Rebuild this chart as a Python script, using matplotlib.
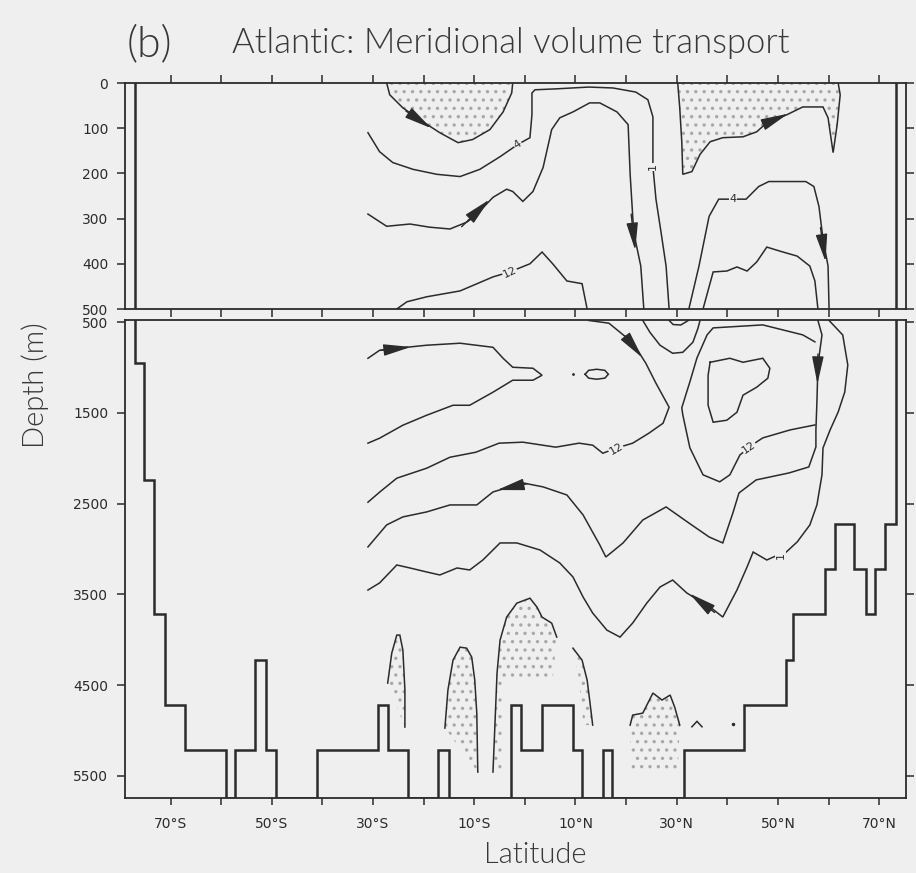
import matplotlib.pyplot as plt

BG = '#efefef'
INK = '#2b2b2b'
DOTS = '#a8a8a8'

# axis ticks
lat_ticks = [-70, -60, -50, -40, -30, -20, -10, 0, 10, 20, 30, 40, 50, 60, 70]
lat_labels = ['70°S', '', '50°S', '', '30°S', '', '10°S', '', '10°N', '', '30°N', '', '50°N', '', '70°N']
top_depth_ticks = [0, 100, 200, 300, 400, 500]
deep_depth_ticks = [500, 1500, 2500, 3500, 4500, 5500]

# land walls and bottom topography (lat, depth)
wall_south = -77.1
wall_north = 73.4
bathy_lat = [-77.1, -77.1, -75.3, -75.3, -73.3, -73.3, -71.1, -71.1, -67.2, -67.2, -59.1, -59.1,
             -57.3, -57.3, -53.4, -53.4, -51.2, -51.2, -49.2, -49.2, -41.1, -41.1, -29.1, -29.1,
             -27.1, -27.1, -23.1, -23.1, -17.2, -17.2, -15.0, -15.0, -2.7, -2.7, -0.7, -0.7,
             3.3, 3.3, 9.5, 9.5, 11.3, 11.3, 15.4, 15.4, 17.3, 17.3, 31.4, 31.4, 43.3, 43.3,
             51.6, 51.6, 53.0, 53.0, 59.3, 59.3, 61.3, 61.3, 65.1, 65.1, 67.4, 67.4, 69.1, 69.1,
             71.1, 71.1, 73.4, 73.4]
bathy_dep = [475, 950, 950, 2240, 2240, 3720, 3720, 4720, 4720, 5220, 5220, 5745,
             5745, 5220, 5220, 4220, 4220, 5220, 5220, 5745, 5745, 5220, 5220, 4720,
             4720, 5220, 5220, 5745, 5745, 5220, 5220, 5745, 5745, 4720, 4720, 5220,
             5220, 4720, 4720, 5220, 5220, 5745, 5745, 5220, 5220, 5745, 5745, 5220, 5220, 4720,
             4720, 4220, 4220, 3720, 3720, 3220, 3220, 2720, 2720, 3220, 3220, 3720, 3720, 3220,
             3220, 2720, 2720, 475]

# ---- upper 500 m: streamlines (lat, depth)
t_south_lat = [-27.3, -26.7, -24.1, -20.8, -16.8, -13.2, -10.3, -6.9, -4.3, -2.6, -2.4]
t_south_dep = [0, 26, 55, 81, 110, 132, 125, 103, 64, 22, 0]
t_north_lat = [30.2, 30.6, 31.0, 31.2, 33.0, 34.6, 36.6, 39.1, 43.1, 45.8, 47.8, 51.8, 54.9,
               58.9, 59.9, 60.9, 61.7, 62.3, 61.9]
t_north_dep = [0, 55, 130, 202, 196, 158, 130, 121, 119, 108, 88, 70, 53, 53, 77, 154, 92, 26, 0]
t_four_lat = [-31.0, -28.7, -26.1, -22.1, -17.4, -12.8, -8.9, -4.9, -1.4, 1.0, 1.4, 1.4, 2.0,
              6.1, 12.6, 17.4, 21.9, 24.3, 25.3, 25.3, 25.9, 26.9, 27.9, 28.5]
t_four_dep = [110, 152, 176, 191, 202, 207, 191, 163, 136, 121, 70, 22, 15, 13, 9, 11, 20, 37,
              75, 185, 257, 330, 405, 500]
t_four_n_lat = [32.4, 34.4, 36.4, 38.3, 41.1, 43.7, 46.2, 48.2, 55.5, 57.1, 58.1, 58.9, 59.9, 60.1]
t_four_n_dep = [500, 405, 295, 257, 257, 257, 229, 218, 218, 229, 273, 345, 405, 500]
t_mid_lat = [-31.0, -27.3, -22.7, -18.8, -14.8, -11.5, -9.9, -6.3, -3.6, -2.4, -0.4, 1.6, 3.6,
             5.3, 6.9, 9.5, 12.8, 14.8, 18.2, 20.4, 20.8, 21.5, 22.9, 23.5]
t_mid_dep = [290, 317, 312, 319, 323, 308, 295, 253, 235, 240, 262, 240, 187, 103, 77, 64, 44,
             44, 64, 92, 202, 330, 405, 500]
t_mid_n_lat = [35.2, 37.2, 39.9, 41.9, 43.9, 45.8, 47.8, 50.4, 53.8, 56.3, 57.3, 57.9]
t_mid_n_dep = [500, 418, 416, 407, 416, 396, 363, 372, 383, 405, 438, 500]
t_twelve_lat = [-25.3, -23.3, -19.4, -12.8, -6.3, -3.0, 1.0, 3.4, 5.5, 8.3, 11.3, 12.3]
t_twelve_dep = [500, 484, 473, 460, 429, 418, 400, 374, 400, 438, 444, 500]

# ---- deep part: streamlines (lat, depth)
d_twelve_lat = [12.6, 16.6, 20.0, 21.9, 23.9, 25.9, 28.5, 27.3, 24.5, 21.3, 18.0, 15.4, 13.4,
                10.7, 6.1, -0.4, -5.1, -9.7, -14.8, -19.4, -25.3, -28.7, -31.0]
d_twelve_dep = [480, 510, 665, 776, 952, 1172, 1437, 1613, 1723, 1833, 1889, 1944, 1855, 1833,
                1877, 1822, 1833, 1933, 1988, 2109, 2219, 2373, 2484]
d_upper_lat = [-31.0, -28.7, -25.3, -19.4, -12.8, -6.3, -4.3, -2.4, 1.6, 3.4, 1.6, -2.4, -6.3,
               -10.9, -14.2, -19.4, -24.1, -28.7, -31.0]
d_upper_dep = [897, 809, 787, 753, 731, 776, 897, 996, 1007, 1084, 1139, 1139, 1271, 1415, 1415,
               1525, 1635, 1778, 1833]
d_eddy_lat = [11.9, 12.6, 14.2, 15.8, 16.5, 15.8, 14.2, 12.6, 11.9]
d_eddy_dep = [1073, 1030, 1018, 1030, 1073, 1116, 1128, 1116, 1073]
d_u_lat = [23.3, 24.7, 26.7, 29.2, 31.2, 33.2, 34.2, 34.6]
d_u_dep = [480, 610, 753, 842, 831, 720, 566, 480]
d_cap_lat = [28.5, 29.3, 30.8, 32.3]
d_cap_dep = [480, 525, 530, 480]
d_core_lat = [36.6, 40.5, 43.1, 47.0, 48.4, 48.0, 45.8, 43.1, 41.9, 39.9, 37.2, 36.2, 36.2, 36.6]
d_core_dep = [941, 897, 941, 897, 1007, 1117, 1216, 1304, 1492, 1580, 1602, 1415, 1084, 941]
d_ring_lat = [57.3, 54.9, 47.0, 37.2, 36.0, 34.0, 32.6, 31.0, 31.2, 32.6, 35.2, 38.5, 40.5, 42.5,
              44.5, 45.8, 47.0, 52.4, 57.3]
d_ring_dep = [716, 639, 529, 562, 639, 893, 1157, 1443, 1520, 1884, 2182, 2259, 2182, 1962, 1874,
              1819, 1775, 1687, 1632]
d_back_lat = [57.9, 58.7, 57.9, 57.7, 57.5, 57.5, 56.1, 52.2, 45.7, 42.3, 41.1, 39.1, 36.4, 32.4,
              27.9, 23.3, 19.4, 16.0, 14.8, 11.5, 8.3, 3.6, -0.4, -3.0, -6.3, -9.5, -14.8, -19.4,
              -24.1, -27.3, -31.0]
d_back_dep = [480, 640, 971, 1379, 1688, 1875, 2095, 2161, 2238, 2382, 2602, 2933, 2867, 2713,
              2536, 2680, 2933, 3088, 2955, 2624, 2404, 2315, 2271, 2315, 2371, 2514, 2514, 2591,
              2646, 2734, 2977]
d_outer_lat = [60.1, 62.8, 63.8, 63.2, 61.9, 60.3, 58.9, 58.7, 57.7, 56.3, 53.8, 51.0, 50.0, 47.8,
               45.1, 43.9, 41.9, 39.1, 36.6, 35.2, 32.0, 29.2, 26.7, 24.1, 21.3, 18.8, 16.2, 13.4,
               11.5, 9.5, 6.9, 3.0, -1.6, -4.9, -8.3, -10.9, -13.4, -16.8, -19.4, -22.7, -25.3,
               -28.7, -31.0]
d_outer_dep = [480, 640, 971, 1269, 1489, 1688, 1886, 2183, 2514, 2735, 2922, 3066, 3066, 3121,
               3033, 3198, 3452, 3750, 3640, 3595, 3485, 3342, 3419, 3595, 3816, 3971, 3894, 3706,
               3529, 3308, 3154, 3011, 2933, 2933, 3121, 3231, 3209, 3286, 3253, 3209, 3176, 3374,
               3452]

# near-bottom cells (stippled)
s1_lat = [-27.1, -26.3, -25.3, -24.7, -24.1, -23.7, -23.7]
s1_dep = [4478, 4148, 3949, 3949, 4115, 4555, 4963]
s2_lat = [-15.8, -15.2, -14.2, -12.8, -11.5, -10.5, -9.9, -9.5, -9.3]
s2_dep = [4974, 4555, 4225, 4082, 4093, 4192, 4445, 4809, 5459]
s3_lat = [-6.3, -5.9, -5.5, -4.9, -3.6, -1.6, 1.0, 2.4, 3.4, 5.3, 6.3]
s3_dep = [5459, 4919, 4368, 4004, 3751, 3597, 3542, 3641, 3751, 3817, 3971]
s4_lat = [9.5, 11.3, 12.3, 12.8, 13.4]
s4_dep = [4093, 4225, 4445, 4665, 4941]
s5_lat = [20.8, 21.3, 23.3, 25.3, 27.1, 28.7, 29.6, 30.6]
s5_dep = [4941, 4831, 4809, 4588, 4665, 4610, 4743, 4941]
caret_lat = [33.0, 34.0, 35.0]
caret_dep = [4960, 4900, 4960]

# flow arrows (tail lat, tail depth, head lat, head depth)
top_arrows = [(-23.5, 62, -18.5, 100), (-12.5, 318, -7.0, 258), (21.0, 290, 21.8, 370),
              (47.5, 90, 52.0, 68), (58.4, 320, 59.4, 395)]
deep_arrows = [(-28.5, 810, -22.5, 772), (19.8, 650, 23.2, 890), (57.9, 850, 57.8, 1180),
               (0.5, 2280, -5.5, 2350), (37.5, 3700, 32.5, 3490)]

# contour labels (lat, depth, text, angle)
top_labels = [(-1.4, 136, '4', 35), (41.1, 257, '4', 0), (25.3, 185, '1', 90), (-3.0, 418, '12', 25)]
deep_labels = [(18.0, 1895, '12', 30), (44.3, 1880, '12', 35), (50.5, 3066, '1', 90)]

plt.rcParams['font.family'] = ['Lato', 'DejaVu Sans']
plt.rcParams['hatch.linewidth'] = 1.2

fig = plt.figure(figsize=(9.16, 8.73), dpi=100, facecolor=BG)
ax_top = fig.add_axes([125 / 916, 1 - 309 / 873, 781 / 916, 226 / 873], facecolor=BG)
ax_deep = fig.add_axes([125 / 916, 1 - 798 / 873, 781 / 916, 478 / 873], facecolor=BG)


def draw(ax, lat, dep, lw=1.1):
    ax.plot(lat, dep, color=INK, lw=lw, solid_joinstyle='miter')


def stipple(ax, lat, dep):
    ax.fill(lat, dep, facecolor='none', edgecolor=DOTS, hatch='..', linewidth=0)


def arrow(ax, a):
    ax.annotate('', xy=(a[2], a[3]), xytext=(a[0], a[1]),
                arrowprops=dict(arrowstyle='-|>,head_length=0.85,head_width=0.18', color=INK,
                                lw=1.0, shrinkA=0, shrinkB=0, mutation_scale=20))


def label(ax, l):
    ax.text(l[0], l[1], l[2], rotation=l[3], fontsize=8, ha='center', va='center', color=INK,
            family='DejaVu Sans', bbox=dict(fc=BG, ec='none', pad=0.4))


# upper panel
stipple(ax_top, t_south_lat, t_south_dep)
stipple(ax_top, t_north_lat, t_north_dep)
for lat, dep in [(t_south_lat, t_south_dep), (t_north_lat, t_north_dep), (t_four_lat, t_four_dep),
                 (t_four_n_lat, t_four_n_dep), (t_mid_lat, t_mid_dep), (t_mid_n_lat, t_mid_n_dep),
                 (t_twelve_lat, t_twelve_dep)]:
    draw(ax_top, lat, dep)
ax_top.plot([wall_south, wall_south], [0, 500], color=INK, lw=1.8)
ax_top.plot([wall_north, wall_north], [0, 500], color=INK, lw=1.8)
for a in top_arrows:
    arrow(ax_top, a)
for l in top_labels:
    label(ax_top, l)

# deep panel
stipple(ax_deep, s1_lat, s1_dep)
stipple(ax_deep, s2_lat, s2_dep)
stipple(ax_deep, s3_lat + [5.5, -4.5, -4.6], s3_dep + [4430, 4430, 5459])
stipple(ax_deep, s4_lat + [11.6, 10.6], s4_dep + [4941, 4400])
stipple(ax_deep, s5_lat + [30.2, 21.0], s5_dep + [5430, 5430])
for lat, dep in [(d_twelve_lat, d_twelve_dep), (d_upper_lat, d_upper_dep), (d_eddy_lat, d_eddy_dep),
                 (d_u_lat, d_u_dep), (d_cap_lat, d_cap_dep), (d_core_lat, d_core_dep),
                 (d_ring_lat, d_ring_dep), (d_back_lat, d_back_dep), (d_outer_lat, d_outer_dep),
                 (s1_lat, s1_dep), (s2_lat, s2_dep), (s3_lat, s3_dep), (s4_lat, s4_dep),
                 (s5_lat, s5_dep), (caret_lat, caret_dep)]:
    draw(ax_deep, lat, dep)
ax_deep.plot([9.5], [1073], marker='.', color=INK, ms=2)
ax_deep.plot([41.1], [4930], marker='.', color=INK, ms=3)
ax_deep.plot(bathy_lat, bathy_dep, color=INK, lw=1.8, solid_joinstyle='miter')
for a in deep_arrows:
    arrow(ax_deep, a)
for l in deep_labels:
    label(ax_deep, l)

for ax in (ax_top, ax_deep):
    ax.set_xlim(-79.0, 75.3)
    ax.set_xticks(lat_ticks)
    for s in ax.spines.values():
        s.set_color(INK)
        s.set_linewidth(1.3)
    ax.tick_params(colors=INK, direction='out', width=1.1, labelsize=10)

ax_top.set_ylim(500, 0)
ax_top.set_yticks(top_depth_ticks)
ax_top.set_xticklabels([])
ax_top.tick_params(axis='x', top=True, bottom=True, length=6, labelbottom=False)
ax_top.tick_params(axis='y', left=True, right=True, length=6, pad=6)

ax_deep.set_ylim(5745, 475)
ax_deep.set_yticks(deep_depth_ticks)
ax_deep.set_xticklabels(lat_labels)
ax_deep.tick_params(axis='x', top=False, bottom=True, length=5, pad=9)
ax_deep.tick_params(axis='y', left=True, right=True, length=6, pad=6)
for t in ax_top.get_yticklabels() + ax_deep.get_yticklabels() + ax_deep.get_xticklabels():
    t.set_family('DejaVu Sans')

TXT = '#383838'
fig.text(127 / 916, 1 - 56 / 873, '(b)', fontsize=31, color=TXT, va='baseline', weight=300)
fig.text(232 / 916, 1 - 53 / 873, 'Atlantic: Meridional volume transport', fontsize=25,
         color=TXT, va='baseline', weight=300)
fig.text(535 / 916, 1 - 855 / 873, 'Latitude', fontsize=21, color=TXT, ha='center', va='center',
         weight=300)
fig.text(35 / 916, 1 - 385 / 873, 'Depth (m)', fontsize=21, color=TXT, ha='center', va='center',
         rotation=90, weight=300)

fig.savefig('out.png', dpi=100, facecolor=BG)
